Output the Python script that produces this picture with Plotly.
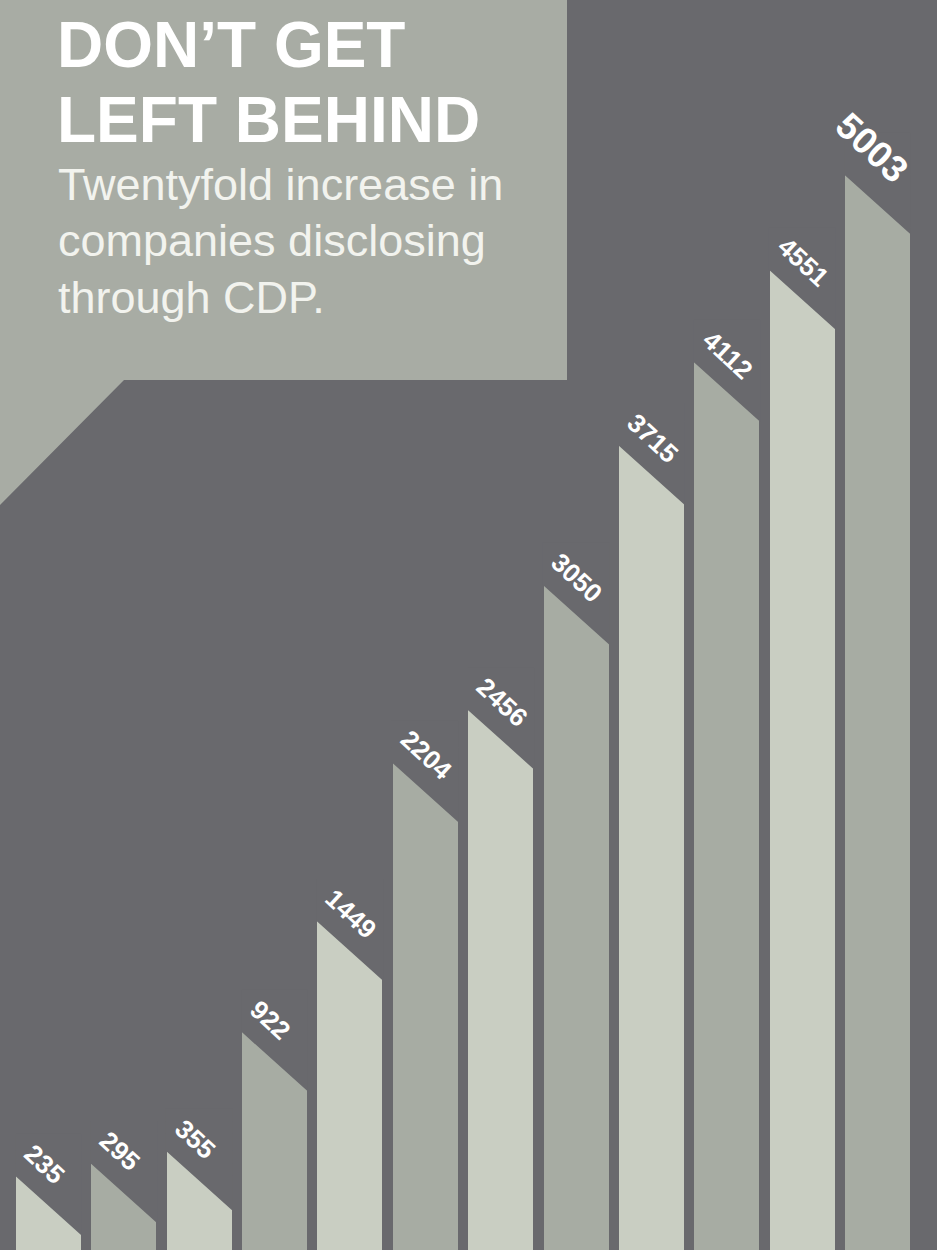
import math
import plotly.graph_objects as go

# ---------------- data ----------------
positions = list(range(12))
companies = [235, 295, 355, 922, 1449, 2204, 2456, 3050, 3715, 4112, 4551, 5003]
value_labels = [str(v) for v in companies]

title_lines = ["DON\u2019T GET", "LEFT BEHIND"]
subtitle_lines = ["Twentyfold increase in", "companies disclosing", "through CDP."]

# ---------------- style ----------------
W, H = 937, 1250
BG = "#69696d"
LIGHT = "#c9cec2"
MID = "#a7aca3"
BUBBLE = "#a8aca4"
FONT = "Liberation Sans, Arial, sans-serif"

PITCH_PX = 75.36          # px between bar centres
X0_PX = 48.5              # px of first bar centre
x_min = -X0_PX / PITCH_PX
x_max = x_min + W / PITCH_PX

K = 0.21                  # px per company
Y_MIN = -118
y_max = Y_MIN + H / K

BAR_W = 0.862
DROP_PX = 60              # vertical drop of the slanted bar top
drop = DROP_PX / K

colors = [LIGHT if i % 2 == 0 else MID for i in range(len(companies))]

fig = go.Figure()

fig.add_trace(go.Bar(
    x=positions,
    y=[v - Y_MIN for v in companies],
    base=Y_MIN,
    width=BAR_W,
    marker=dict(color=colors, line=dict(width=0)),
    hoverinfo="skip",
    showlegend=False,
))

# slanted tops: cover the top-right corner of each bar with background
e = 0.012
tx, ty = [], []
for p, v in zip(positions, companies):
    xl = p - BAR_W / 2
    xr = p + BAR_W / 2
    tx += [xl - e, xl - e, xr + e, xr + e, xl - e, None]
    ty += [v, v + 200, v + 200, v - drop, v, None]
fig.add_trace(go.Scatter(
    x=tx, y=ty, mode="lines", fill="toself", fillcolor=BG,
    line=dict(width=0, color=BG), hoverinfo="skip", showlegend=False,
))

# rotated value labels above each slant
bar_w_px = BAR_W * PITCH_PX
ang = math.atan2(DROP_PX, bar_w_px)
ux, uy = math.cos(ang), math.sin(ang)        # along slant (screen, y down)
nx, ny = math.sin(ang), -math.cos(ang)       # normal, pointing up-right
last = len(companies) - 1
for i, (p, v, lab) in enumerate(zip(positions, companies, value_labels)):
    if i == last:
        fs, start, nrm = 37, -40, 38
    else:
        fs, start, nrm = 26, -9, 28
    L = 0.556 * fs * len(lab)
    a = start + L / 2                         # along offset from top-left corner
    dx = a * ux + nrm * nx
    dy = a * uy + nrm * ny                    # screen (down positive)
    fig.add_annotation(
        x=p - BAR_W / 2, y=v, xref="x", yref="y",
        text=lab, showarrow=False, textangle=math.degrees(ang),
        xanchor="center", yanchor="middle",
        xshift=dx, yshift=-dy,
        font=dict(family=FONT, size=fs, color="white", weight="bold"),
    )

# speech bubble
fig.add_shape(
    type="path", xref="paper", yref="paper",
    path="M 0 1 L {r} 1 L {r} {b} L {t} {b} L 0 {tip} Z".format(
        r=567 / W, b=1 - 380 / H, t=124 / W, tip=1 - 505 / H),
    fillcolor=BUBBLE, line=dict(width=0), layer="below",
)

for line, ymid in zip(title_lines, [45, 120]):
    fig.add_annotation(
        x=55 / W, y=1 - ymid / H, xref="paper", yref="paper",
        text=line, showarrow=False, xanchor="left", yanchor="middle",
        font=dict(family=FONT, size=64, color="white", weight="bold"),
    )
for line, ymid in zip(subtitle_lines, [184, 241, 297]):
    fig.add_annotation(
        x=56 / W, y=1 - ymid / H, xref="paper", yref="paper",
        text=line, showarrow=False, xanchor="left", yanchor="middle",
        font=dict(family=FONT, size=45, color="#f2f3ee"),
    )

fig.update_layout(
    width=W, height=H,
    margin=dict(l=0, r=0, t=0, b=0),
    paper_bgcolor=BG, plot_bgcolor=BG,
    xaxis=dict(range=[x_min, x_max], visible=False, fixedrange=True),
    yaxis=dict(range=[Y_MIN, y_max], visible=False, fixedrange=True),
    bargap=0,
    showlegend=False,
)

fig.write_html(
    "out.html",
    config={"displayModeBar": False},
    post_script="document.body.style.margin='0';document.body.style.overflow='hidden';document.body.style.background='" + BG + "';",
)
